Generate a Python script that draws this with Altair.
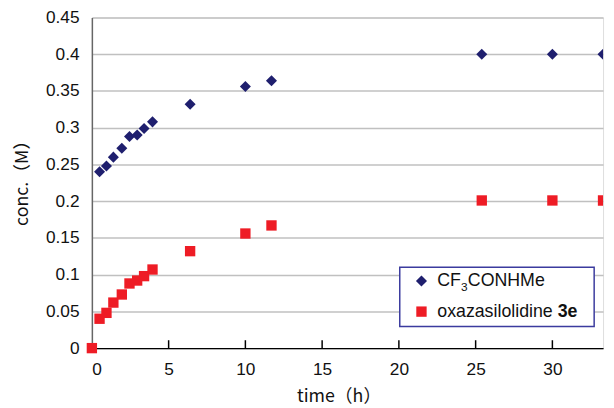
import altair as alt
import pandas as pd

# --- data -------------------------------------------------------------------
times = [0.5, 0.95, 1.4, 1.95, 2.45, 2.95, 3.4, 3.95, 6.4, 10.0, 11.7, 25.4, 30.0, 33.3]
cf3conhme = [0.240, 0.248, 0.260, 0.272, 0.288, 0.290, 0.299, 0.308, 0.332, 0.356, 0.364, 0.400, 0.400, 0.400]
oxa_times = [0.0] + times
oxazasilolidine = [0.0, 0.040, 0.048, 0.062, 0.073, 0.088, 0.092, 0.098, 0.107, 0.132, 0.156, 0.167, 0.201, 0.201, 0.201]
x_ticks = [0, 5, 10, 15, 20, 25, 30]
x_inner_ticks = [5, 10, 15, 20, 25, 30]
y_ticks = [0, 0.05, 0.1, 0.15, 0.2, 0.25, 0.3, 0.35, 0.4, 0.45]
series_names = ["CF3CONHMe", "oxazasilolidine 3e"]

NAVY = "#1f1f6e"
RED = "#ee1c25"
W, H = 518, 335
XMAX = 33.3

df = pd.concat([
    pd.DataFrame({"t": times, "c": cf3conhme, "s": series_names[0]}),
    pd.DataFrame({"t": oxa_times, "c": oxazasilolidine, "s": series_names[1]}),
], ignore_index=True)

xscale = alt.Scale(domain=[0, XMAX], nice=False, zero=False)
yscale = alt.Scale(domain=[0, 0.45], nice=False)

xaxis = alt.Axis(values=x_ticks, format="~g", grid=False, ticks=False,
                 domainColor="#000000", domainWidth=1.5,
                 labelFont="Liberation Sans", labelFontSize=17.5, labelColor="#111111",
                 labelPadding=13, labelOverlap=False,
                 title="time（h）", titleFont="Noto Sans CJK JP", titleFontSize=18,
                 titleFontWeight="normal", titleColor="#111111",
                 titleX=250, titleY=54, titleAlign="center", titleBaseline="alphabetic")
yaxis = alt.Axis(values=y_ticks, format="~g", grid=True, gridColor="#c0c0c0", gridWidth=1.5,
                 ticks=False, domainColor="#666666", domainWidth=1.5,
                 labelFont="Liberation Sans", labelFontSize=17.5, labelColor="#111111",
                 labelPadding=13, labelOverlap=False,
                 title="conc.（M）", titleFont="Noto Sans CJK JP", titleFontSize=18,
                 titleFontWeight="normal", titleColor="#111111",
                 titleX=-70, titleY=163, titleAngle=270, titleAlign="center",
                 titleBaseline="middle")

base = alt.Chart(df)

color = alt.Color("s:N", scale=alt.Scale(domain=series_names, range=[NAVY, RED]), legend=None)
shape = alt.Shape("s:N", scale=alt.Scale(domain=series_names, range=["diamond", "square"]), legend=None)
size = alt.Size("s:N", scale=alt.Scale(domain=series_names, range=[125, 110]), legend=None)

X = alt.X("t:Q", scale=xscale, axis=xaxis)
Y = alt.Y("c:Q", scale=yscale, axis=yaxis)

pts_inner = base.transform_filter(alt.datum.t < XMAX - 0.1).mark_point(filled=True, opacity=1).encode(
    x=X, y=Y, color=color, shape=shape, size=size,
)
pts_edge = base.transform_filter(alt.datum.t >= XMAX - 0.1).mark_point(filled=True, opacity=1, clip=True).encode(
    x=X, y=Y, color=color, shape=shape, size=size,
)

ticks = alt.Chart(pd.DataFrame({"t": x_inner_ticks})).mark_rule(color="#000000", strokeWidth=1.5).encode(
    x=X, y=alt.value(H - 8), y2=alt.value(H),
)

one = pd.DataFrame({"k": [1]})
def txt(s, x, y, size=18, weight="normal"):
    return alt.Chart(one).mark_text(align="left", baseline="alphabetic", font="Liberation Sans",
                                    fontSize=size, fontWeight=weight, color="#111111").encode(
        x=alt.value(x), y=alt.value(y), text=alt.value(s))

legend_box = alt.Chart(one).mark_rect(fill="white", stroke="#3b3b9e", strokeWidth=1.5).encode(
    x=alt.value(312), x2=alt.value(509), y=alt.value(253), y2=alt.value(313))
leg_d = alt.Chart(one).mark_point(shape="diamond", filled=True, opacity=1, color=NAVY, size=125).encode(
    x=alt.value(334), y=alt.value(267))
leg_s = alt.Chart(one).mark_point(shape="square", filled=True, opacity=1, color=RED, size=110).encode(
    x=alt.value(334), y=alt.value(298))

chart = alt.layer(
    pts_inner, ticks, pts_edge,
    legend_box, leg_d, leg_s,
    txt("CF", 350, 272), txt("3", 374, 277, size=12), txt("CONHMe", 381, 272),
    txt("oxazasilolidine ", 350, 303), txt("3e", 472, 303, weight="bold"),
).properties(
    width=W, height=H,
    autosize=alt.AutoSizeParams(type="none"),
    padding={"left": 85, "top": 7, "right": 3, "bottom": 58},
).configure_view(stroke="#999999", strokeWidth=1.5).configure(background="white")

chart.save("out.html", embed_options={"renderer": "svg", "actions": False})
